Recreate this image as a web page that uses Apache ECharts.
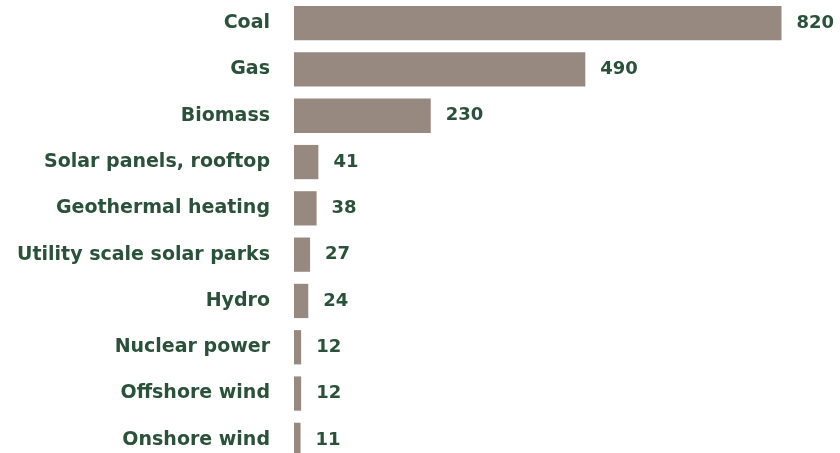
<!DOCTYPE html>
<html><head><meta charset="utf-8">
<script src="https://cdn.jsdelivr.net/npm/echarts@6/dist/echarts.min.js"></script>
<style>html,body{margin:0;padding:0;background:#fff}#c{width:840px;height:453px}</style>
</head><body><div id="c"></div>
<script>
const categories = ["Coal","Gas","Biomass","Solar panels, rooftop","Geothermal heating","Utility scale solar parks","Hydro","Nuclear power","Offshore wind","Onshore wind"];
const values = [820,490,230,41,38,27,24,12,12,11];
const textColor = '#2a5139';
const barColor = '#978880';
const chart = echarts.init(document.getElementById('c'), null, {renderer:'canvas'});
chart.setOption({
  animation:false,
  grid:{left:294,top:0,width:487.5,height:463,containLabel:false,outerBoundsMode:'none'},
  xAxis:{type:'value',min:0,max:820,show:false},
  yAxis:{type:'category',data:categories,inverse:true,
    axisLine:{show:false},axisTick:{show:false},
    axisLabel:{margin:24,color:textColor,fontFamily:'DejaVu Sans',fontWeight:700,fontSize:19}},
  series:[{type:'bar',data:values,barCategoryGap:'26%',
    itemStyle:{color:barColor},
    label:{show:true,position:'right',distance:15,color:textColor,fontFamily:'DejaVu Sans',fontWeight:700,fontSize:18}}]
});
</script></body></html>
